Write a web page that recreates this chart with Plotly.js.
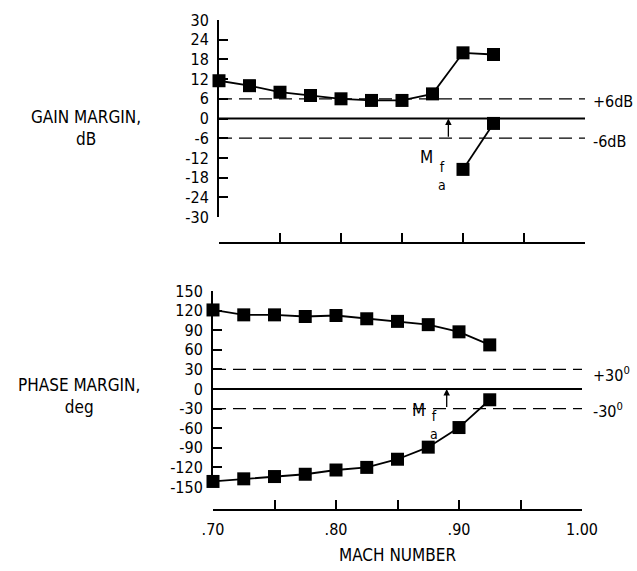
<!DOCTYPE html>
<html>
<head>
<meta charset="utf-8">
<script src="https://cdn.plot.ly/plotly-3.0.1.min.js"></script>
<style>html,body{margin:0;padding:0;background:#fff;} #chart{width:637px;height:571px;}</style>
</head>
<body>
<div id="chart"></div>
<script>
// ---- data ----
const machUpper = [0.70, 0.725, 0.75, 0.775, 0.80, 0.825, 0.85, 0.875, 0.90, 0.925];
const gainUpper = [11.5, 10, 8, 7, 6, 5.5, 5.5, 7.5, 20, 19.5];
const machGainLower = [0.90, 0.925];
const gainLower = [-15.5, -1.5];

const phaseUpper = [121, 113.5, 113.5, 111, 112.5, 107.5, 103.5, 98.5, 87.5, 67.5];
const machPhaseLower = [0.70, 0.725, 0.75, 0.775, 0.80, 0.825, 0.85, 0.875, 0.90, 0.925];
const phaseLower = [-141.5, -137.5, -134, -130.5, -124, -120, -107.5, -89, -59, -16.5];

const refX = [0.70, 1.00];
const gainRefs = [6, -6];
const phaseRefs = [30, -30];

const gainTicks = [30, 24, 18, 12, 6, 0, -6, -12, -18, -24, -30];
const phaseTicks = [150, 120, 90, 60, 30, 0, -30, -60, -90, -120, -150];
const machMajor = [0.70, 0.80, 0.90, 1.00];
const machMajorText = ['.70', '.80', '.90', '1.00'];
const machMinor = [0.75, 0.85, 0.95];

// ---- helpers ----
const W = 637, H = 571;
const px = v => v / W;
const py = v => 1 - v / H;
const FONT = 'DejaVu Sans Condensed, Liberation Sans Narrow, Arial Narrow, sans-serif';

const mk = {symbol: 'square', size: 13, color: '#000'};
const ln = {color: '#000', width: 1.8};

function dataTrace(x, y, xa, ya) {
  return {x: x, y: y, xaxis: xa, yaxis: ya, mode: 'lines+markers', marker: mk, line: ln,
          cliponaxis: false, hoverinfo: 'skip'};
}
function refTrace(level, xa, ya, dashed) {
  return {x: refX, y: [level, level], xaxis: xa, yaxis: ya, mode: 'lines', cliponaxis: false,
          line: {color: '#000', width: dashed ? 1.3 : 2, dash: dashed ? '13px,7px' : 'solid'}, hoverinfo: 'skip'};
}

const traces = [
  refTrace(0, 'x', 'y', false),
  refTrace(gainRefs[0], 'x', 'y', true),
  refTrace(gainRefs[1], 'x', 'y', true),
  dataTrace(machUpper, gainUpper, 'x', 'y'),
  dataTrace(machGainLower, gainLower, 'x', 'y'),
  refTrace(0, 'x2', 'y2', false),
  refTrace(phaseRefs[0], 'x2', 'y2', true),
  refTrace(phaseRefs[1], 'x2', 'y2', true),
  dataTrace(machUpper, phaseUpper, 'x2', 'y2'),
  dataTrace(machPhaseLower, phaseLower, 'x2', 'y2')
];

const axCommon = {
  showgrid: false, zeroline: false, showline: true, linecolor: '#000', linewidth: 2,
  ticks: 'inside', ticklen: 9, tickwidth: 2, tickcolor: '#000',
  tickfont: {family: FONT, size: 16, color: '#000'}, fixedrange: true
};
const minorX = {tickvals: machMinor, ticks: 'inside', ticklen: 9, tickwidth: 2, tickcolor: '#000', showgrid: false};

function ann(text, x, y, size, xanchor, yanchor) {
  return {text: text, xref: 'paper', yref: 'paper', x: px(x), y: py(y), showarrow: false,
          xanchor: xanchor || 'center', yanchor: yanchor || 'middle',
          font: {family: FONT, size: size || 15, color: '#000'}};
}

const layout = {
  width: W, height: H,
  margin: {l: 0, r: 0, t: 0, b: 0},
  paper_bgcolor: '#fff', plot_bgcolor: 'rgba(0,0,0,0)',
  showlegend: false,
  xaxis: Object.assign({}, axCommon, {
    domain: [px(219), px(585)], range: [0.70, 1.00], anchor: 'free', position: py(243),
    tickvals: machMajor, showticklabels: false, minor: minorX
  }),
  yaxis: Object.assign({}, axCommon, {
    domain: [py(217), py(20)], range: [-30, 30], anchor: 'x', ticklabelstandoff: 5,
    tickvals: gainTicks, ticktext: gainTicks.map(String)
  }),
  xaxis2: Object.assign({}, axCommon, {
    domain: [px(213), px(582)], range: [0.70, 1.00], anchor: 'free', position: py(510),
    tickvals: machMajor, ticktext: machMajorText, ticklabelstandoff: 5, minor: minorX,
    title: {text: 'MACH NUMBER', font: {family: FONT, size: 17, color: '#000'}, standoff: 10}
  }),
  yaxis2: Object.assign({}, axCommon, {
    domain: [py(487), py(291)], range: [-150, 150], anchor: 'x2', ticklabelstandoff: 5,
    tickvals: phaseTicks, ticktext: phaseTicks.map(String)
  }),
  annotations: [
    ann('GAIN MARGIN,<br>dB', 86, 128, 17),
    ann('PHASE MARGIN,<br>deg', 79, 396, 17),
    ann('+6dB', 591, 102, 16, 'left'),
    ann('-6dB', 591, 142, 16, 'left'),
    ann('+30<sup>0</sup>', 591, 374, 16, 'left'),
    ann('-30<sup>0</sup>', 591, 410, 16, 'left'),
    // M_fa labels
    ann('M', 426, 157, 17),
    ann('f<br>a', 442, 176, 14),
    ann('M', 418, 410, 17),
    ann('f<br>a', 434, 425, 14),
    // arrows
    {xref: 'x', yref: 'y', axref: 'x', ayref: 'y', x: 0.888, y: 0, ax: 0.888, ay: -6,
     showarrow: true, arrowhead: 2, arrowsize: 1, arrowwidth: 1.3, arrowcolor: '#000', text: ''},
    {xref: 'x2', yref: 'y2', axref: 'x2', ayref: 'y2', x: 0.890, y: 0, ax: 0.890, ay: -30,
     showarrow: true, arrowhead: 2, arrowsize: 1, arrowwidth: 1.3, arrowcolor: '#000', text: ''}
  ]
};

Plotly.newPlot('chart', traces, layout, {staticPlot: true, displayModeBar: false});
</script>
</body>
</html>
